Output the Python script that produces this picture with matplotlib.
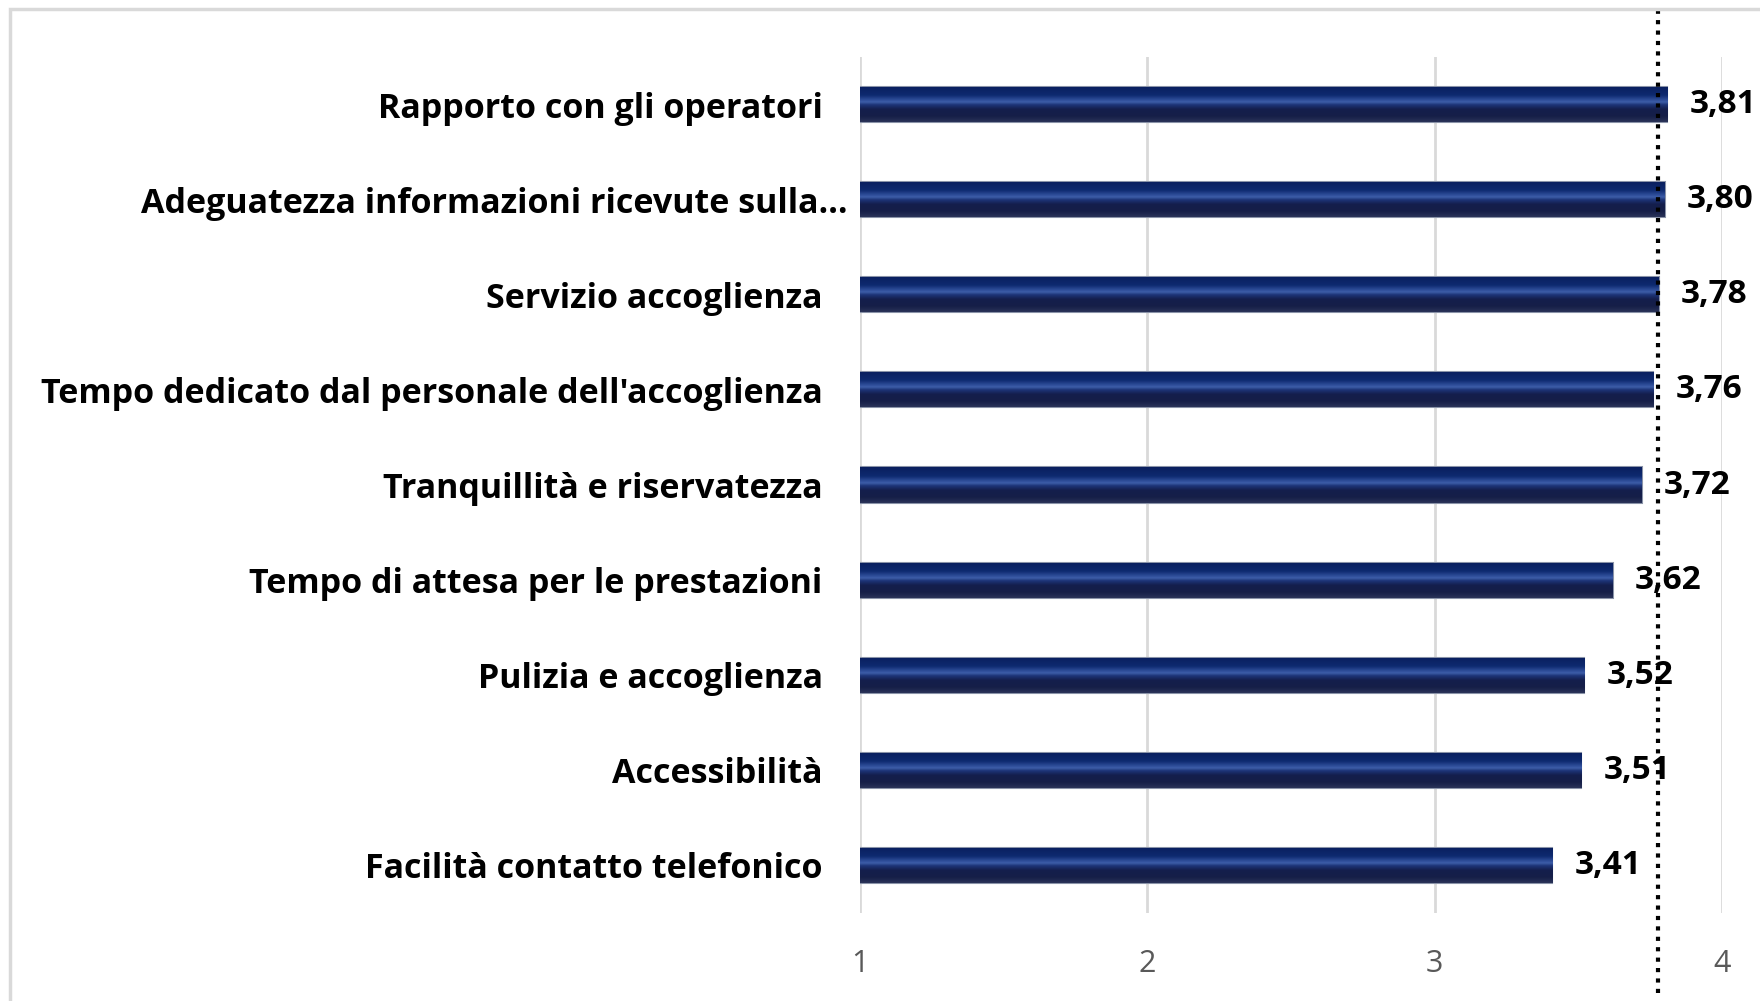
import numpy as np
import matplotlib.pyplot as plt
import matplotlib.transforms as mtransforms
from matplotlib.colors import LinearSegmentedColormap
from matplotlib.patches import Rectangle

# data, top to bottom as in the chart
categories = [
    "Rapporto con gli operatori",
    "Adeguatezza informazioni ricevute sulla\u2026",
    "Servizio accoglienza",
    "Tempo dedicato dal personale dell'accoglienza",
    "Tranquillit\u00e0 e riservatezza",
    "Tempo di attesa per le prestazioni",
    "Pulizia e accoglienza",
    "Accessibilit\u00e0",
    "Facilit\u00e0 contatto telefonico",
]
scores = [3.81, 3.80, 3.78, 3.76, 3.72, 3.62, 3.52, 3.51, 3.41]
x_ticks = [1, 2, 3, 4]
ref_value = 3.777  # dotted reference line

plt.rcParams["font.family"] = ["Open Sans", "DejaVu Sans"]

fig = plt.figure(figsize=(17.6, 10.01), dpi=100)
ax = fig.add_axes([860 / 1760, 1 - 913 / 1001, 862 / 1760, 856 / 1001])

y = np.arange(len(categories))
base = 1
h = 0.37

# vertical shading of the bars (top -> bottom)
shade = LinearSegmentedColormap.from_list("bar", [
    (0.0, "#0a1f5e"), (0.25, "#0e2a70"), (0.38, "#2d4c98"), (0.44, "#3d5ea8"),
    (0.52, "#1d3478"), (0.65, "#141e4c"), (0.85, "#161f48"), (1.0, "#2a3358")])
grad = np.linspace(0, 1, 64).reshape(-1, 1)

bars = ax.barh(y, np.array(scores) - base, left=base, height=h, color="#0c2263",
               edgecolor="#8a93a8", linewidth=1.5, zorder=3)
for b, yi, v in zip(bars, y, scores):
    im = ax.imshow(grad, cmap=shade, aspect="auto", origin="upper", interpolation="bilinear",
                   extent=(base, v, yi + h / 2, yi - h / 2), zorder=4)
    im.set_clip_path(b)

for yi, v in zip(y, scores):
    ax.annotate(f"{v:.2f}".replace(".", ","), (v, yi), xytext=(16, 0),
                textcoords="offset points", ha="left", va="center",
                fontsize=24, fontweight="bold", color="black", zorder=6)

ax.axvline(ref_value, ymin=-0.093, ymax=1.055, color="black", linewidth=3,
           linestyle=(0, (1, 1.5)), dash_capstyle="butt", clip_on=False, zorder=7)

ax.set_xlim(1, 4)
ax.set_ylim(len(categories) - 0.5, -0.5)
ax.set_xticks(x_ticks)
ax.set_xticklabels([str(t) for t in x_ticks], fontsize=22, color="#595959")
ax.set_yticks(y)
ax.set_yticklabels(categories, fontsize=24.5, fontweight="bold", color="black")
ax.tick_params(axis="both", length=0)
ax.tick_params(axis="x", pad=26)
ax.tick_params(axis="y", pad=27)
ax.grid(axis="x", color="#d9d9d9", linewidth=2, zorder=0)
for s in ax.spines.values():
    s.set_visible(False)

# long truncated label sits further right in the original
lbl = ax.get_yticklabels()[1]
lbl.set_transform(lbl.get_transform() + mtransforms.ScaledTranslation(0.25, 0, fig.dpi_scale_trans))

# light frame around the chart area
fig.patches.append(Rectangle((10 / 1760, -0.1), 1.2, 1 - 9 / 1001 + 0.1, transform=fig.transFigure,
                             fill=False, edgecolor="#d9d9d9", linewidth=2.5))

fig.savefig("out.png", dpi=100)
